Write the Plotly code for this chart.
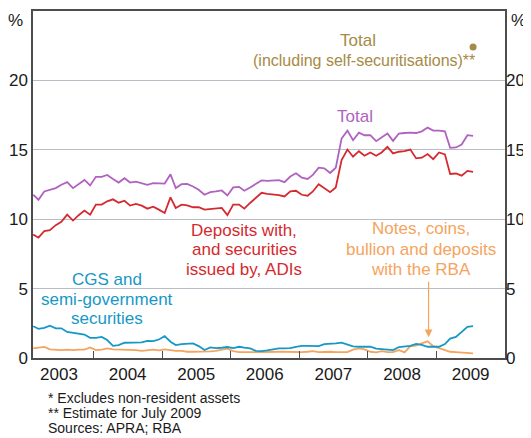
import pandas as pd
import plotly.graph_objects as go

# Monthly observations, Feb 2003 - Jul 2009 (per cent of assets)
months = pd.date_range("2003-02-01", "2009-07-01", freq="MS") + pd.Timedelta(days=14)

total = [11.76, 11.4, 12.0, 12.12, 12.24, 12.48, 12.67, 12.24, 12.52, 12.83,
         12.43, 13.05, 13.05, 13.19, 12.9, 12.64, 12.95, 12.64, 12.71, 12.6,
         12.48, 12.6, 12.6, 12.57, 13.24, 12.24, 12.52, 12.55, 12.36, 12.12,
         11.76, 11.95, 12.0, 12.07, 11.71, 12.29, 12.33, 12.05, 12.29, 12.52,
         12.79, 12.76, 12.81, 12.81, 12.67, 13.07, 13.31, 13.0, 12.9, 13.19,
         13.71, 13.67, 13.33, 13.71, 15.81, 16.38, 15.69, 16.24, 16.05, 16.05,
         15.62, 15.88, 16.17, 15.64, 16.17, 16.21, 16.24, 16.21, 16.33, 16.6,
         16.38, 16.38, 16.33, 15.14, 15.17, 15.38, 16.05, 16.0]

adis = [8.9, 8.67, 9.14, 9.21, 9.57, 9.81, 10.33, 9.9, 10.29, 10.62,
        10.33, 11.05, 11.05, 11.29, 11.43, 11.19, 11.33, 10.98, 11.1, 10.98,
        10.76, 10.9, 10.69, 10.45, 11.57, 10.81, 11.05, 11.0, 10.86, 10.86,
        10.69, 10.74, 10.81, 10.81, 10.29, 11.05, 11.05, 10.76, 11.17, 11.52,
        11.9, 11.83, 11.79, 11.74, 11.64, 12.0, 12.05, 11.76, 11.69, 12.0,
        12.52, 12.24, 11.95, 12.29, 14.26, 15.02, 14.5, 14.9, 14.57, 14.81,
        14.57, 14.81, 15.21, 14.74, 14.86, 14.9, 15.02, 14.38, 14.43, 14.69,
        14.33, 14.81, 14.67, 13.26, 13.29, 13.14, 13.48, 13.41]

cgs = [2.29, 2.1, 2.17, 2.33, 2.14, 2.14, 1.88, 1.81, 1.76, 1.69,
       1.45, 1.45, 1.52, 1.29, 0.88, 0.93, 1.1, 1.1, 1.1, 1.12,
       1.24, 1.21, 1.33, 1.57, 1.17, 0.93, 1.0, 1.02, 1.05, 0.86,
       0.57, 0.76, 0.71, 0.74, 0.79, 0.71, 0.81, 0.74, 0.69, 0.52,
       0.5, 0.55, 0.62, 0.69, 0.69, 0.71, 0.81, 0.88, 0.88, 0.86,
       0.86, 1.0, 1.0, 1.05, 1.1, 0.95, 0.83, 0.81, 0.79, 0.81,
       0.67, 0.62, 0.6, 0.57, 0.79, 0.86, 0.88, 1.02, 0.95, 0.81,
       0.79, 0.81, 1.0, 1.4, 1.52, 1.86, 2.24, 2.29]

notes = [0.69, 0.74, 0.8, 0.62, 0.57, 0.57, 0.6, 0.57, 0.6, 0.6,
         0.76, 0.57, 0.6, 0.69, 0.62, 0.62, 0.62, 0.6, 0.57, 0.52,
         0.57, 0.6, 0.55, 0.62, 0.57, 0.52, 0.52, 0.45, 0.45, 0.45,
         0.45, 0.48, 0.52, 0.57, 0.67, 0.5, 0.42, 0.42, 0.45, 0.43,
         0.43, 0.45, 0.48, 0.45, 0.45, 0.43, 0.45, 0.43, 0.45, 0.5,
         0.43, 0.45, 0.45, 0.43, 0.42, 0.42, 0.6, 0.69, 0.62, 0.45,
         0.4, 0.5, 0.42, 0.42, 0.57, 0.4, 0.86, 0.9, 1.05, 1.2,
         0.85, 0.7, 0.55, 0.45, 0.43, 0.4, 0.36, 0.33]

total_incl_date = ["2009-07-15"]
total_incl = [22.4]

years = ["2003", "2004", "2005", "2006", "2007", "2008", "2009"]
year_mid = [f"{y}-07-02" for y in years]
year_start = [f"{y}-01-01" for y in years[1:]]
yticks = [0, 5, 10, 15, 20]

PURPLE = "#B062C0"
RED = "#D42A2F"
BLUE = "#1698C6"
ORANGE = "#F5A45E"
GOLD = "#A68A45"
FONT = "Liberation Sans, Arial, sans-serif"
TXT = "#1a1a1a"

fig = go.Figure()
lw = 1.8
fig.add_trace(go.Scatter(x=months, y=notes, mode="lines", line=dict(color=ORANGE, width=lw), hoverinfo="skip"))
fig.add_trace(go.Scatter(x=months, y=cgs, mode="lines", line=dict(color=BLUE, width=lw), hoverinfo="skip"))
fig.add_trace(go.Scatter(x=months, y=adis, mode="lines", line=dict(color=RED, width=lw), hoverinfo="skip"))
fig.add_trace(go.Scatter(x=months, y=total, mode="lines", line=dict(color=PURPLE, width=lw), hoverinfo="skip"))
fig.add_trace(go.Scatter(x=total_incl_date, y=total_incl, mode="markers", yaxis="y2",
                         marker=dict(color=GOLD, size=7), hoverinfo="skip"))

def label(text, x, y, color, size=17):
    fig.add_annotation(x=x, y=y, text=text, showarrow=False, xref="x", yref="y",
                       font=dict(family=FONT, size=size, color=color),
                       xanchor="center", yanchor="middle")

label("Total", "2007-11-10", 22.88, GOLD)
label("(including self-securitisations)**", "2007-12-10", 21.45, GOLD, 16)
label("Total", "2007-10-25", 17.38, PURPLE)
for t, yv in zip(["Deposits with,", "and securities", "issued by, ADIs"], [9.21, 7.79, 6.36]):
    label(t, "2006-03-15", yv, RED)
for t, yv in zip(["CGS and", "semi-government", "securities"], [5.66, 4.24, 2.86]):
    label(t, "2004-03-15", yv, BLUE)
for t, yv in zip(["Notes, coins,", "bullion and deposits", "with the RBA"], [9.31, 7.81, 6.38]):
    label(t, "2008-10-10", yv, ORANGE)

# arrow to the notes & coins series
fig.add_annotation(x="2008-11-20", y=1.5, xref="x", yref="y", text="", showarrow=True,
                   ax=0, ay=-57, arrowhead=2, arrowsize=1.3, arrowwidth=1.2, arrowcolor=ORANGE)

# unit labels
for xp in [-0.038, 1.028]:
    fig.add_annotation(x=xp, y=1.0, xref="paper", yref="paper", text="%", showarrow=False,
                       font=dict(family=FONT, size=17, color=TXT), xanchor="center", yanchor="middle",
                       yshift=-9)

# footnotes
notes_txt = ["* Excludes non-resident assets", "** Estimate for July 2009", "Sources: APRA; RBA"]
for i, t in enumerate(notes_txt):
    fig.add_annotation(x=0.0275, y=-0.116 - i * 0.043, xref="paper", yref="paper", text=t,
                       showarrow=False, xanchor="left", yanchor="middle",
                       font=dict(family=FONT, size=14, color=TXT))

axis_line = "#4d4d4d"
# the page adds an 8px body margin, so the figure is 8px smaller than the window
fig.update_layout(
    width=523, height=430,
    margin=dict(l=25, r=26, t=1, b=80),
    paper_bgcolor="white", plot_bgcolor="white",
    showlegend=False,
    font=dict(family=FONT, size=17, color=TXT),
    xaxis=dict(
        type="date", range=["2003-02-14", "2010-01-01"],
        tickmode="array", tickvals=year_mid, ticktext=years, ticks="",
        showgrid=False, zeroline=False,
        showline=True, mirror=True, linecolor=axis_line, linewidth=1.5,
        tickfont=dict(family=FONT, size=17, color=TXT),
        minor=dict(tickmode="array", tickvals=year_start, ticks="inside", ticklen=7,
                   tickcolor=axis_line, tickwidth=1, showgrid=False),
    ),
    yaxis=dict(
        range=[0, 25], tickmode="array", tickvals=yticks, ticks="",
        showgrid=True, gridcolor="#B9BDC6", gridwidth=1.2, zeroline=False,
        showline=True, mirror=True, linecolor=axis_line, linewidth=1.5,
        tickfont=dict(family=FONT, size=17, color=TXT),
    ),
    yaxis2=dict(
        range=[0, 25], tickmode="array", tickvals=yticks, ticks="",
        overlaying="y", side="right", showgrid=False, zeroline=False, showline=False,
        tickfont=dict(family=FONT, size=17, color=TXT),
    ),
)

fig.write_html("out.html")
